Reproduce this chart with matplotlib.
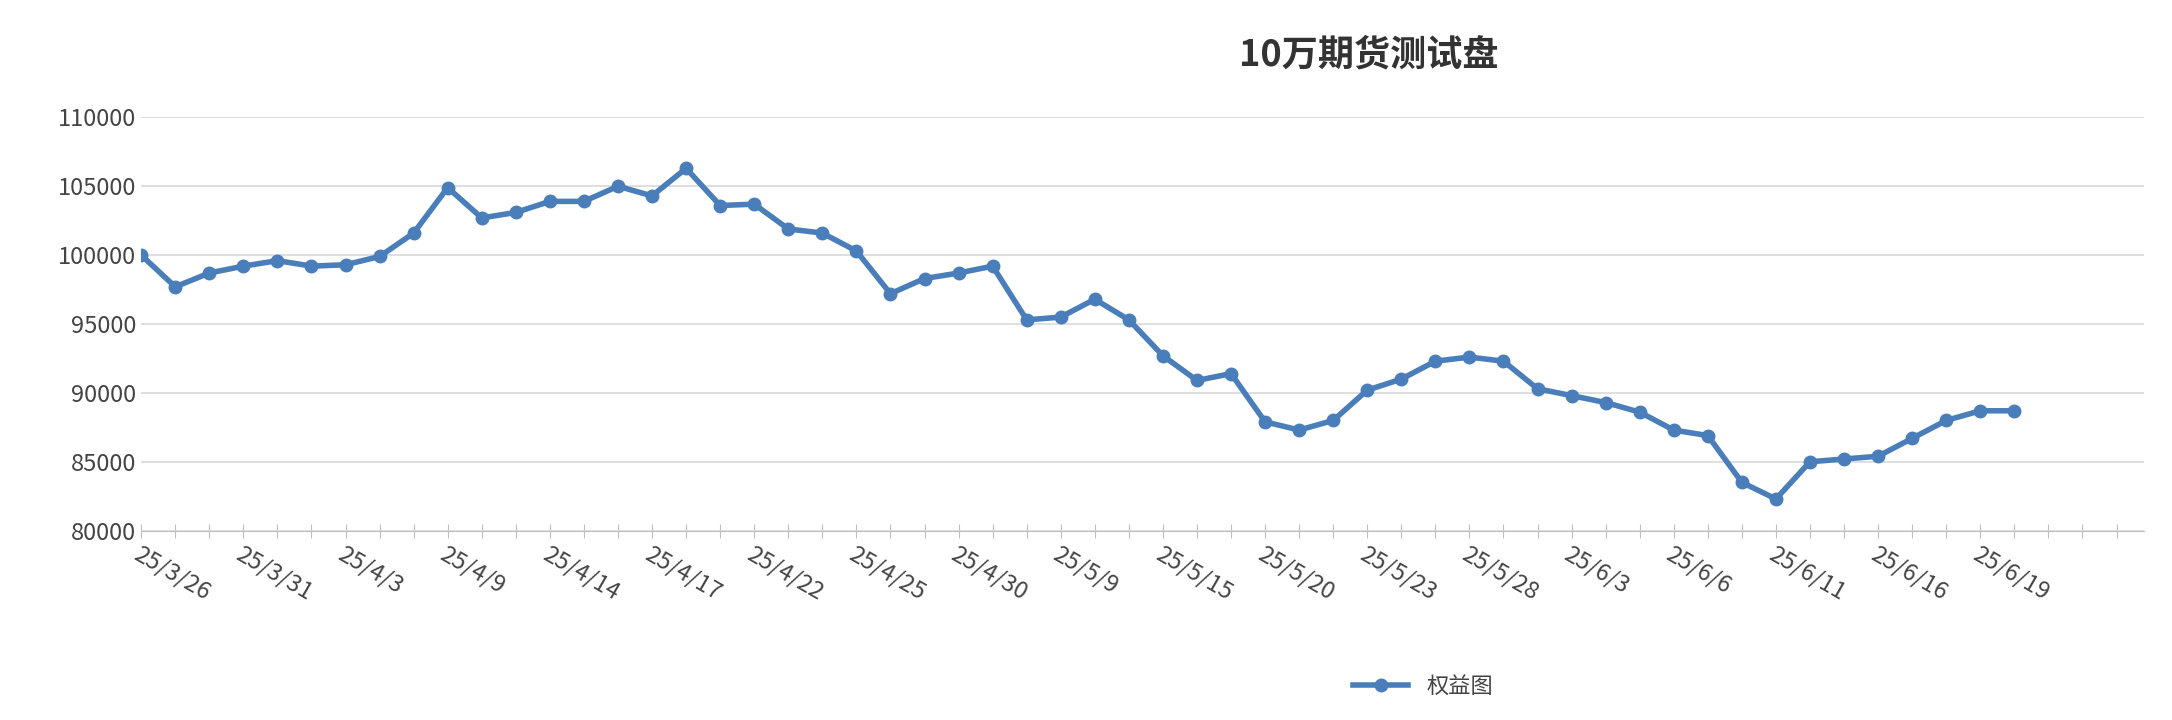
import matplotlib
matplotlib.use('Agg')
import matplotlib.pyplot as plt

plt.rcParams['font.family'] = ['Noto Sans CJK SC', 'DejaVu Sans']

labels = ['25/3/26', '25/3/31', '25/4/3', '25/4/9', '25/4/14', '25/4/17', '25/4/22',
          '25/4/25', '25/4/30', '25/5/9', '25/5/15', '25/5/20', '25/5/23', '25/5/28',
          '25/6/3', '25/6/6', '25/6/11', '25/6/16', '25/6/19']
equity = [100000, 97700, 98700, 99200, 99600, 99200, 99300, 99900, 101600, 104900,
          102700, 103100, 103900, 103900, 105000, 104300, 106300, 103600, 103700, 101900,
          101600, 100300, 97200, 98300, 98700, 99200, 95300, 95500, 96800, 95300,
          92700, 90900, 91400, 87900, 87300, 88000, 90200, 91000, 92300, 92600,
          92300, 90300, 89800, 89300, 88600, 87300, 86900, 83500, 82300, 85000,
          85200, 85400, 86700, 88000, 88700, 88700]

color = '#4a7ebb'
fig = plt.figure(figsize=(21.72, 7.2), dpi=100)
ax = fig.add_axes([0.065, 0.263, 0.922, 0.574])
x = list(range(len(equity)))
ax.plot(x, equity, color=color, lw=4, marker='o', ms=9, label='权益图')

ax.set_ylim(80000, 110000)
ax.set_yticks(range(80000, 110001, 5000))
ax.set_xlim(0, 58.8)
ax.set_xticks(range(0, 59))
ax.set_xticklabels([labels[i // 3] if i % 3 == 0 and i // 3 < len(labels) else '' for i in range(59)],
                   rotation=-30, ha='left', rotation_mode='anchor')
ax.grid(axis='y', color='#d9d9d9', lw=1.2)
ax.set_axisbelow(True)
for s in ['top', 'right', 'left']:
    ax.spines[s].set_visible(False)
ax.spines['bottom'].set_color('#bfbfbf')
ax.tick_params(axis='y', length=0, labelsize=17, colors='#444444')
ax.tick_params(axis='x', length=10, color='#bfbfbf', labelsize=17, labelcolor='#444444', direction='inout')

fig.suptitle('10万期货测试盘', x=0.63, y=0.95, fontsize=26, fontweight='bold', color='#333333')
ax.legend(loc='upper center', bbox_to_anchor=(0.64, -0.3), frameon=False, fontsize=16,
          handlelength=2.5, labelcolor='#444444')

fig.savefig('out.png', dpi=100)
